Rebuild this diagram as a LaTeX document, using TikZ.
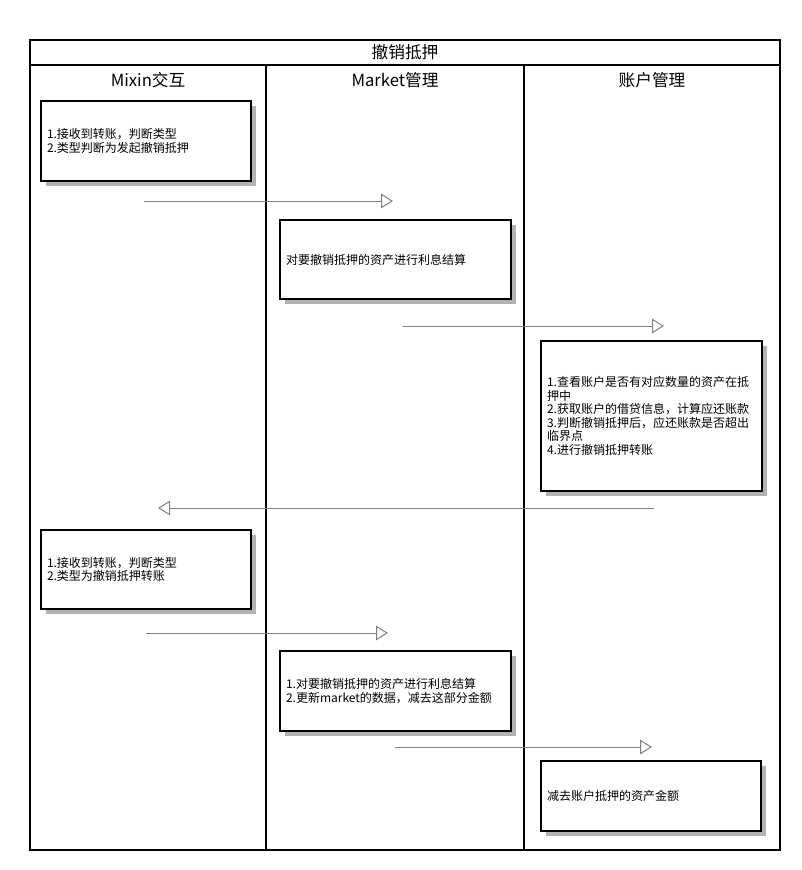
\documentclass[tikz,border=0pt]{standalone}
\usepackage{fontspec}
\setmainfont{Noto Sans CJK SC}
\usetikzlibrary{arrows.meta,shadows}

\tikzset{
  lane/.style={font=\fontsize{12.5pt}{14pt}\selectfont},
  task/.style={draw,line width=1.5pt,fill=white,anchor=north west,
    inner xsep=4.5pt,inner ysep=0pt,align=left,
    font=\fontsize{9pt}{10.2pt}\selectfont,
    drop shadow={shadow xshift=3.75pt,shadow yshift=-3.75pt,fill=black!30,opacity=1}},
  flow/.style={draw=black!50,line width=0.75pt,-{Triangle[open,length=9pt,width=11pt]}}
}

\begin{document}
\begin{tikzpicture}[x=0.75pt,y=-0.75pt]
    \useasboundingbox (0,0) rectangle (802,870);
    \begin{scope}
        % Pool frame
        \draw [line width=1.5pt] (30,40) rectangle (780,850);
        \draw [line width=1.5pt] (30,65) -- (780,65);
        \node [lane] (title) at (405,52) {撤销抵押};

        % Lanes
        \draw [line width=1.5pt] (266,65) -- (266,850);
        \draw [line width=1.5pt] (524,65) -- (524,850);
        \node [lane] (mixin) at (148,80) {Mixin交互};
        \node [lane] (market) at (395,80) {Market管理};
        \node [lane] (account) at (652,80) {账户管理};

        % Tasks
        \node [task,text width=148.5pt,minimum height=60pt] (recv1) at (40,100)
            {1.接收到转账，判断类型\\2.类型判断为发起撤销抵押};
        \node [task,text width=164.25pt,minimum height=59.25pt] (interest1) at (279,219)
            {对要撤销抵押的资产进行利息结算};
        \node [task,text width=156.75pt,minimum height=112.5pt] (check) at (540,340)
            {1.查看账户是否有对应数量的资产在抵\\押中\\2.获取账户的借贷信息，计算应还账款\\3.判断撤销抵押后，应还账款是否超出\\临界点\\4.进行撤销抵押转账};
        \node [task,text width=148.5pt,minimum height=59.25pt] (recv2) at (40,529)
            {1.接收到转账，判断类型\\2.类型为撤销抵押转账};
        \node [task,text width=164.25pt,minimum height=60pt] (update) at (279,650)
            {1.对要撤销抵押的资产进行利息结算\\2.更新market的数据，减去这部分金额};
        \node [task,text width=156pt,minimum height=52.5pt] (reduce) at (540,760)
            {减去账户抵押的资产金额};

        % Message ends
        \coordinate (m1s) at (144,201);  \coordinate (m1e) at (393,201);
        \coordinate (m2s) at (403,326);  \coordinate (m2e) at (664,326);
        \coordinate (m3s) at (654,508);  \coordinate (m3e) at (158,508);
        \coordinate (m4s) at (146,633);  \coordinate (m4e) at (388,633);
        \coordinate (m5s) at (395,747);  \coordinate (m5e) at (652,747);

        % Messages
        \draw [flow] (m1s) -- (m1e);
        \draw [flow] (m2s) -- (m2e);
        \draw [flow] (m3s) -- (m3e);
        \draw [flow] (m4s) -- (m4e);
        \draw [flow] (m5s) -- (m5e);
    \end{scope}
\end{tikzpicture}
\end{document}
